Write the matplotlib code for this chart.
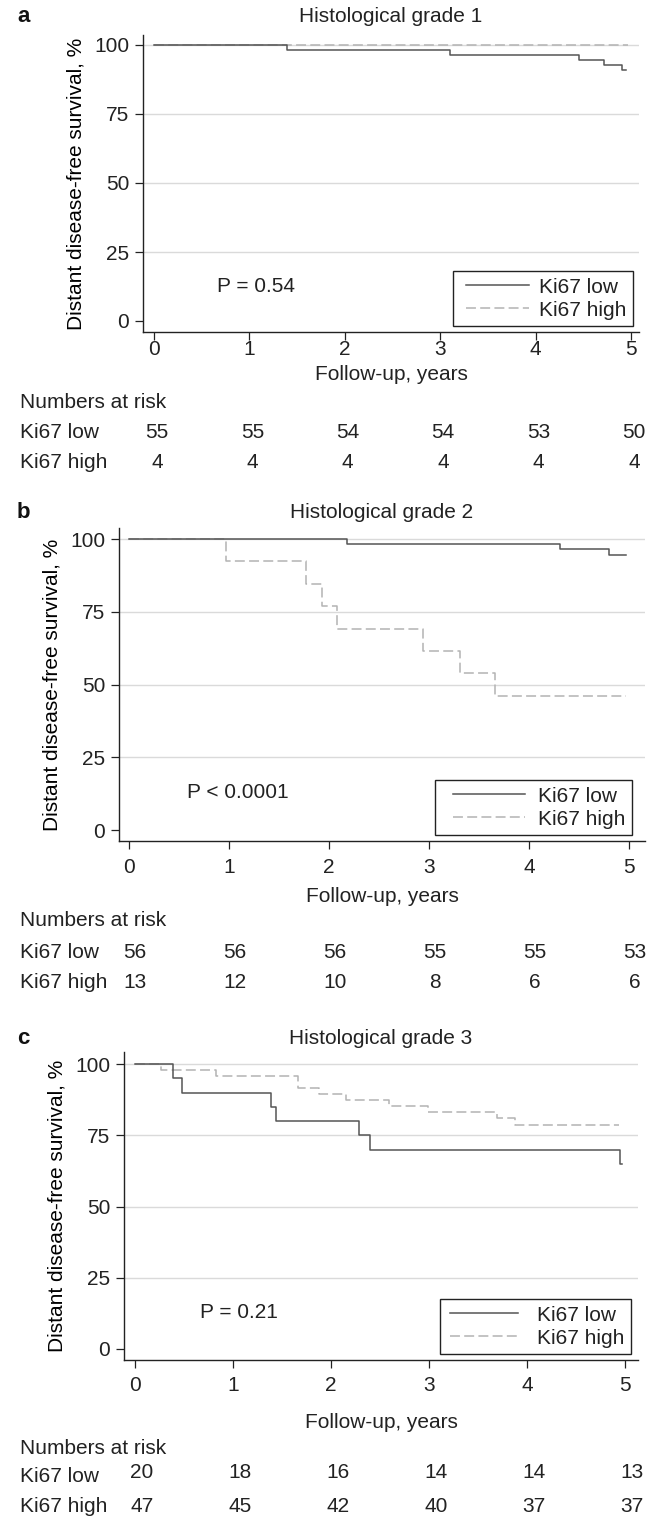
import numpy as np
import matplotlib
matplotlib.use('Agg')
import matplotlib.pyplot as plt
from matplotlib import transforms
from matplotlib.legend_handler import HandlerLine2D

plt.rcParams['font.family'] = ['Liberation Sans', 'DejaVu Sans']
plt.rcParams['text.color'] = '#222222'

W, H, DPI = 653, 1519, 100
FS = 15

# ---- data ----
years = [0, 1, 2, 3, 4, 5]
titles = ['Histological grade 1', 'Histological grade 2', 'Histological grade 3']
letters = ['a', 'b', 'c']
pvalues = ['P = 0.54', 'P < 0.0001', 'P = 0.21']

# Kaplan-Meier step curves (time in years, survival in %)
g1_low_t = [0, 1.39, 3.10, 4.46, 4.72, 4.91, 4.95]
g1_low_s = [100, 98.2, 96.4, 94.5, 92.7, 90.9, 90.9]
g1_high_t = [0, 4.97]
g1_high_s = [100, 100]

g2_low_t = [0, 2.18, 4.31, 4.80, 4.97]
g2_low_s = [100, 98.2, 96.4, 94.6, 94.6]
g2_high_t = [0, 0.97, 1.77, 1.93, 2.08, 2.94, 3.31, 3.66, 4.97]
g2_high_s = [100, 92.3, 84.6, 76.9, 69.2, 61.5, 53.8, 46.2, 46.2]

g3_low_t = [0, 0.39, 0.48, 1.39, 1.44, 2.29, 2.40, 4.95, 4.97]
g3_low_s = [100, 95, 90, 85, 80, 75, 70, 65, 65]
g3_high_t = [0, 0.27, 0.83, 1.66, 1.88, 2.15, 2.59, 2.99, 3.69, 3.88, 4.94]
g3_high_s = [100, 97.9, 95.7, 91.5, 89.4, 87.2, 85.1, 83.0, 80.9, 78.7, 78.7]

# numbers at risk
risk_low = [[55, 55, 54, 54, 53, 50],
            [56, 56, 56, 55, 55, 53],
            [20, 18, 16, 14, 14, 13]]
risk_high = [[4, 4, 4, 4, 4, 4],
             [13, 12, 10, 8, 6, 6],
             [47, 45, 42, 40, 37, 37]]

curves = [(g1_low_t, g1_low_s, g1_high_t, g1_high_s),
          (g2_low_t, g2_low_s, g2_high_t, g2_high_s),
          (g3_low_t, g3_low_s, g3_high_t, g3_high_s)]

# ---- layout (pixels from top-left) ----
# axes box: left, top, right, bottom ; x0/x5 tick pixels ; y100/y0 pixels
boxes = [(143, 35, 639, 332), (119, 528, 645, 841), (124, 1052, 638, 1360)]
xpix = [(154, 631), (129, 629), (135, 625)]
ypix = [(45, 321), (539, 830), (1064, 1349)]
title_y = [17, 512, 1038]
xlabel_y = [374, 897, 1422]
# numbers-at-risk header, low label, high label, low numbers
rows_y = [(403, 432, 462, 432), (920, 953, 983, 953), (1448, 1477, 1507, 1473)]
num_dx = [3, 6, 7]
xtick_pad = [0.3, 6.5, 6.0]
p_pos = [(217, 287), (187, 793), (200, 1313)]
# handlelength, marker pad, text pad, right inset px
leg_cfg = [(3.68, 0.33, 0.15, 6), (4.6, 0.57, 0.06, 13), (3.63, 0.18, 0.73, 7)]

LOW_C = '#555555'
HIGH_C = '#b3b3b3'
GRID_C = '#dadada'


def fx(x):
    return x / W


def fy(y):
    return 1 - y / H


fig = plt.figure(figsize=(W / DPI, H / DPI), dpi=DPI)

for i in range(3):
    l, t, r, b = boxes[i]
    ax = fig.add_axes([fx(l), fy(b), (r - l) / W, (b - t) / H])
    x0, x5 = xpix[i]
    k = (x5 - x0) / 5.0
    y100, y0 = ypix[i]
    pu = (y0 - y100) / 100.0
    ax.set_xlim((l - x0) / k, (r - x0) / k)
    ax.set_ylim(-(b - y0) / pu, (y0 - t) / pu)

    for g in [25, 50, 75, 100]:
        ax.axhline(g, color=GRID_C, lw=1.0, zorder=0)

    lt, ls, ht, hs = curves[i]
    ax.step(ht, hs, where='post', color=HIGH_C, lw=1.1, dashes=(6.5, 2.8),
            label='Ki67 high', zorder=2)
    ax.step(lt, ls, where='post', color=LOW_C, lw=1.1, label='Ki67 low', zorder=3)

    for s in ['top', 'right']:
        ax.spines[s].set_visible(False)
    for s in ['left', 'bottom']:
        ax.spines[s].set_linewidth(1.0)
        ax.spines[s].set_color('#222222')
    ax.set_xticks(years)
    ax.set_yticks([0, 25, 50, 75, 100])
    ax.tick_params(axis='both', direction='out', length=5.5, width=0.9,
                   color='#222222', labelsize=FS, labelcolor='#222222')
    ax.tick_params(axis='x', pad=xtick_pad[i])
    ax.tick_params(axis='y', pad=4.5)

    ax.set_ylabel('Distant disease-free survival, %', fontsize=FS, labelpad=6)

    px, py = p_pos[i]
    ax.text(fx(px), fy(py), pvalues[i], transform=fig.transFigure,
            fontsize=FS, ha='left', va='center')

    hl, mp, tp, inset = leg_cfg[i]
    h, lab = ax.get_legend_handles_labels()
    order = [1, 0]
    leg = ax.legend([h[j] for j in order], [lab[j] for j in order],
                    loc='lower right',
                    bbox_to_anchor=(1 - inset / (r - l), 6.0 / (b - t)),
                    fontsize=FS, frameon=True, fancybox=False,
                    edgecolor='#222222', framealpha=1, borderpad=0.3,
                    labelspacing=0.2, handlelength=hl, handletextpad=tp,
                    borderaxespad=0,
                    handler_map={h[0]: HandlerLine2D(numpoints=2, marker_pad=mp),
                                 h[1]: HandlerLine2D(numpoints=2, marker_pad=mp)})
    leg.get_frame().set_linewidth(1.0)

    # title, panel letter, x label
    fig.text(fx((l + r) / 2), fy(title_y[i]), titles[i], fontsize=FS,
             ha='center', va='center')
    fig.text(fx(17), fy(title_y[i]), letters[i], fontsize=16,
             fontweight='bold', ha='left', va='center', color='#111111')
    fig.text(fx((l + r) / 2), fy(xlabel_y[i]), 'Follow-up, years',
             fontsize=FS, ha='center', va='center')

    # numbers at risk table
    ny, lowy, highy, numy = rows_y[i]
    fig.text(fx(20), fy(ny), 'Numbers at risk', fontsize=FS, ha='left', va='center')
    fig.text(fx(20), fy(lowy), 'Ki67 low', fontsize=FS, ha='left', va='center')
    fig.text(fx(20), fy(highy), 'Ki67 high', fontsize=FS, ha='left', va='center')
    tr = transforms.blended_transform_factory(ax.transData, fig.transFigure)
    tr = transforms.offset_copy(tr, fig=fig, x=num_dx[i], y=0, units='dots')
    for yr, nl, nh in zip(years, risk_low[i], risk_high[i]):
        ax.text(yr, fy(numy), str(nl), transform=tr, fontsize=FS,
                ha='center', va='center', clip_on=False)
        ax.text(yr, fy(highy), str(nh), transform=tr, fontsize=FS,
                ha='center', va='center', clip_on=False)

fig.savefig('out.png', dpi=DPI)
